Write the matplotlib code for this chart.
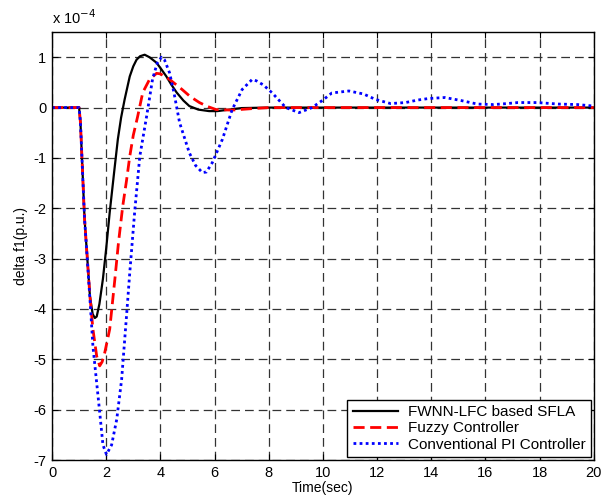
import matplotlib
matplotlib.use("Agg")
import matplotlib.pyplot as plt

plt.rcParams['font.family'] = ['Liberation Sans', 'DejaVu Sans']
plt.rcParams['axes.unicode_minus'] = False

# values in units of 1e-4 p.u.
t_fwnn = [0, 1.0, 1.05, 1.2, 1.4, 1.5, 1.58, 1.65, 1.75, 1.88, 2.0, 2.13, 2.3, 2.43, 2.55, 2.68,
          2.87, 3.0, 3.12, 3.25, 3.42, 3.6, 3.86, 4.05, 4.22, 4.4, 4.6, 4.85, 5.07, 5.4, 5.8,
          6.1, 6.4, 7.0, 8.0, 20.0]
y_fwnn = [0, 0, -0.3, -2.2, -3.75, -4.1, -4.18, -4.15, -3.9, -3.4, -2.8, -2.08, -1.25, -0.63,
          -0.2, 0.16, 0.62, 0.82, 0.95, 1.02, 1.05, 1.0, 0.89, 0.75, 0.62, 0.46, 0.3, 0.14, 0.03,
          -0.04, -0.07, -0.07, -0.05, -0.01, 0, 0]

t_fuzzy = [0, 1.0, 1.05, 1.2, 1.4, 1.51, 1.65, 1.76, 1.85, 1.95, 2.13, 2.32, 2.45, 2.61, 2.75,
           2.87, 3.0, 3.16, 3.35, 3.6, 3.86, 4.0, 4.34, 4.8, 5.1, 5.44, 5.75, 6.06, 6.65, 7.4,
           8.0, 20.0]
y_fuzzy = [0, 0, -0.3, -2.2, -3.75, -4.4, -4.94, -5.13, -5.05, -4.86, -4.4, -3.41, -2.7, -1.96,
           -1.45, -0.97, -0.55, -0.18, 0.3, 0.56, 0.68, 0.67, 0.56, 0.36, 0.22, 0.1, 0.02,
           -0.04, -0.05, -0.02, 0, 0]

t_pi = [0, 1.0, 1.05, 1.2, 1.4, 1.51, 1.76, 1.88, 2.01, 2.2, 2.39, 2.57, 2.76, 2.87, 3.05, 3.24,
        3.49, 3.71, 3.88, 4.04, 4.15, 4.34, 4.5, 4.71, 5.07, 5.3, 5.55, 5.7, 5.92, 6.29, 6.65,
        7.02, 7.39, 7.55, 7.8, 8.13, 8.63, 9.12, 9.6, 10.0, 10.33, 10.96, 11.5, 11.95, 12.5,
        13.05, 13.5, 13.9, 14.5, 15.1, 15.7, 16.3, 16.8, 17.2, 17.9, 18.7, 19.4, 20.0]
y_pi = [0, 0, -0.3, -2.2, -3.8, -4.74, -6.05, -6.7, -6.89, -6.7, -6.19, -5.4, -4.07, -3.28,
        -2.08, -0.97, -0.18, 0.56, 0.88, 1.0, 0.95, 0.69, 0.3, -0.3, -0.9, -1.15, -1.29, -1.28,
        -1.09, -0.63, -0.04, 0.36, 0.56, 0.53, 0.45, 0.29, 0, -0.1, 0, 0.15, 0.29, 0.33, 0.27,
        0.16, 0.08, 0.1, 0.15, 0.18, 0.2, 0.14, 0.07, 0.06, 0.08, 0.1, 0.1, 0.07, 0.06, 0.03]

labels = ["FWNN-LFC based SFLA", "Fuzzy Controller", "Conventional PI Controller"]
x_ticks = list(range(0, 21, 2))
y_ticks = list(range(-7, 2))

fig = plt.figure(figsize=(6.02, 5.01), dpi=100)
ax = fig.add_axes([0.0864, 0.0818, 0.9, 0.8542])

ax.plot(t_fwnn, y_fwnn, color='black', lw=1.6, ls='-', label=labels[0])
ax.plot(t_fuzzy, y_fuzzy, color='red', lw=2.0, ls=(0, (4, 2)), label=labels[1])
ax.plot(t_pi, y_pi, color='blue', lw=2.0, ls=(0, (1, 1.2)), label=labels[2])

ax.set_xlim(0, 20)
ax.set_ylim(-7, 1.5)
ax.set_xticks(x_ticks)
ax.set_yticks(y_ticks)
ax.tick_params(direction='in', labelsize=10.5, length=4, top=True, right=True, pad=4)
ax.grid(True, color='#333333', ls=(0, (7, 4)), lw=0.9)
for s in ax.spines.values():
    s.set_linewidth(1.0)

ax.set_xlabel("Time(sec)", fontsize=10, labelpad=1)
ax.set_ylabel("delta f1(p.u.)", fontsize=10, labelpad=4)
ax.text(0.0, 1.012, "x 10$^{-4}$", transform=ax.transAxes, fontsize=10.5, ha='left', va='bottom')

leg = ax.legend(loc='lower right', fontsize=11, frameon=True, fancybox=False,
                edgecolor='black', framealpha=1, borderaxespad=0.2, handlelength=3.0,
                labelspacing=0.15, borderpad=0.35, handletextpad=0.6)
leg.get_frame().set_linewidth(1.0)

fig.savefig("out.png", dpi=100)
